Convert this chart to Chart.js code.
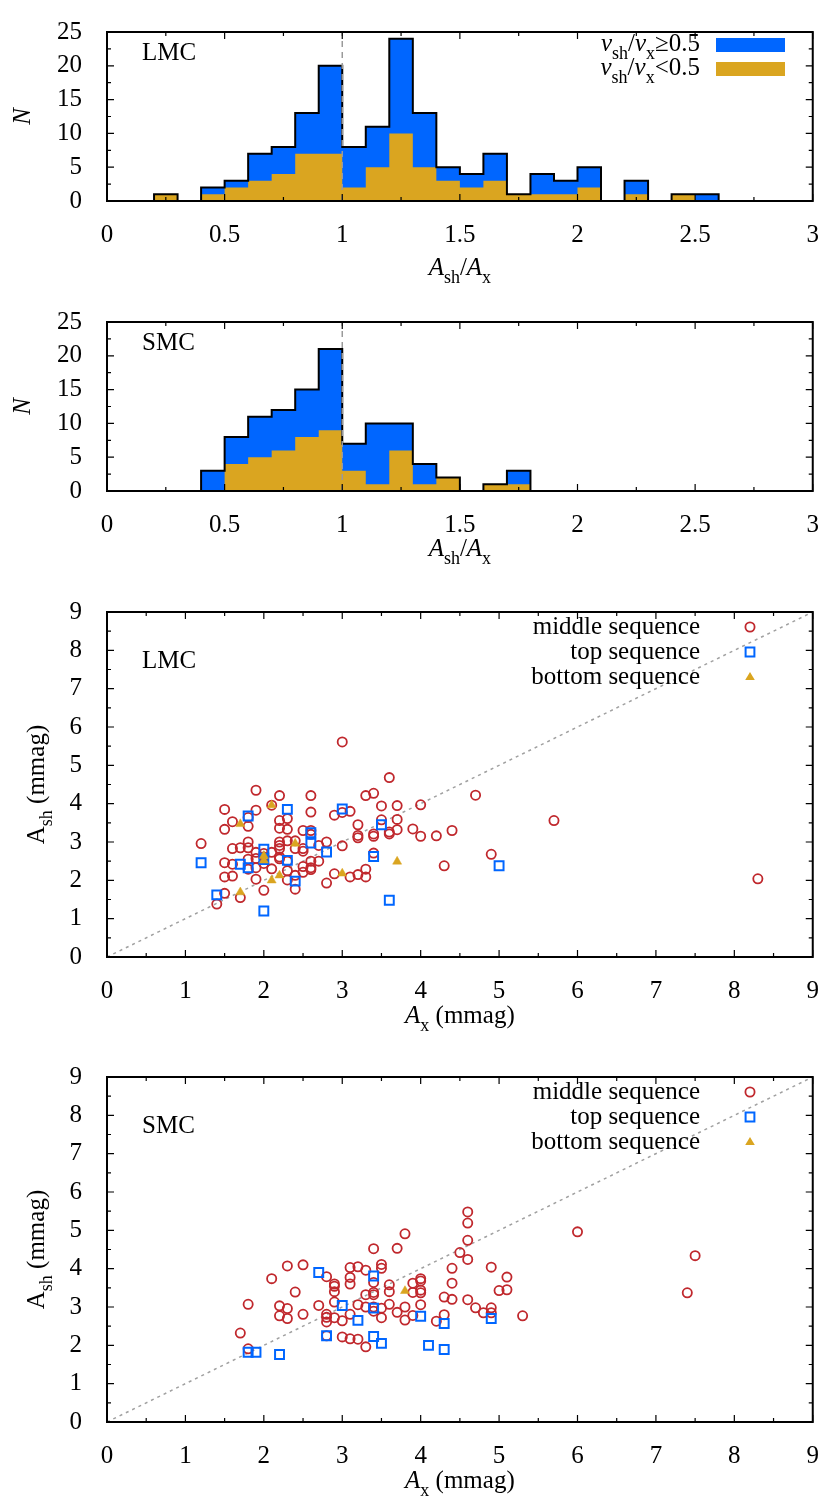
<!DOCTYPE html>
<html>
<head>
<meta charset="utf-8">
<script src="https://cdn.jsdelivr.net/npm/chart.js@4.4.1/dist/chart.umd.min.js"></script>
<style>
  body { margin: 0; background: #fff; }
  #wrap { position: relative; width: 830px; height: 1511px; }
  canvas { position: absolute; left: 0; }
</style>
</head>
<body>
<div id="wrap">
  <canvas id="histLMC" width="830" height="290" style="top:0px"></canvas>
  <canvas id="histSMC" width="830" height="290" style="top:290px"></canvas>
  <canvas id="scatLMC" width="830" height="465" style="top:580px"></canvas>
  <canvas id="scatSMC" width="830" height="465" style="top:1045px"></canvas>
</div>
<script>
// histogram bins (left edges, width 0.1)
const binEdges = [0, 0.1, 0.2, 0.3, 0.4, 0.5, 0.6, 0.7, 0.8, 0.9, 1.0, 1.1, 1.2, 1.3, 1.4,
                  1.5, 1.6, 1.7, 1.8, 1.9, 2.0, 2.1, 2.2, 2.3, 2.4, 2.5, 2.6, 2.7, 2.8, 2.9]
const binEnd = 3.0

// LMC counts: all stars (blue top) and v_sh/v_x < 0.5 (yellow)
const lmcAll = [0, 0, 1, 0, 2, 3, 7, 8, 13, 20, 8, 11, 24, 13, 5, 4, 7, 1, 4, 3, 5, 0, 3, 0, 1, 1, 0, 0, 0, 0]
const lmcLow = [0, 0, 1, 0, 1, 2, 3, 4, 7, 7, 2, 5, 10, 5, 3, 2, 3, 1, 1, 1, 2, 0, 1, 0, 1, 0, 0, 0, 0, 0]
// SMC counts
const smcAll = [0, 0, 0, 0, 3, 8, 11, 12, 15, 21, 7, 10, 10, 4, 2, 0, 1, 3, 0, 0, 0, 0, 0, 0, 0, 0, 0, 0, 0, 0]
const smcLow = [0, 0, 0, 0, 0, 4, 5, 6, 8, 9, 3, 1, 6, 1, 2, 0, 1, 1, 0, 0, 0, 0, 0, 0, 0, 0, 0, 0, 0, 0]

// LMC amplitudes (mmag)
const lmcMidX = [1.2, 1.5, 1.6, 1.5, 1.9, 1.9, 1.8, 1.8, 2.2, 2.1, 2.2, 2.3, 2.2, 2.3, 2.6, 2.6, 2.5, 2.6, 2.6,
  1.8, 1.8, 1.6, 1.7, 1.9, 2.0, 2.1, 2.2, 2.2, 2.2, 2.2, 2.3, 2.4, 2.5, 2.5, 2.7, 2.8, 3.0, 2.9, 3.0, 3.1,
  3.0, 3.2, 3.2, 3.2, 3.3, 3.4, 3.4, 3.4, 3.4, 3.5, 3.5, 3.6, 3.6, 3.6, 3.7, 3.7, 3.7, 3.9, 4.0, 4.0,
  4.2, 4.4, 4.7, 4.9, 4.3, 5.7, 8.3, 1.5, 1.6, 1.8, 1.8, 1.9, 1.9, 1.5, 1.6, 1.5, 1.4, 1.7, 2.0, 2.0,
  2.1, 2.2, 2.3, 2.3, 2.4, 2.4, 2.5, 2.5, 2.6, 2.6, 2.6, 2.7, 2.8, 2.9, 3.1, 3.2, 3.3, 3.3, 2.3, 2.4,
  2.0, 1.9]
const lmcMidY = [2.96, 3.85, 3.53, 3.33, 4.35, 3.83, 3.64, 3.41, 4.21, 3.96, 3.56, 3.61, 3.36, 3.33, 4.21, 3.78, 3.30, 3.30, 3.20,
  3.00, 2.85, 2.83, 2.85, 2.73, 2.70, 2.73, 3.00, 2.91, 2.83, 2.61, 3.03, 3.03, 2.83, 2.76, 2.91, 3.00, 2.90, 3.70, 3.77, 3.80,
  5.61, 3.45, 3.17, 3.11, 4.21, 4.27, 3.21, 3.15, 2.71, 3.94, 3.58, 4.68, 3.26, 3.21, 3.95, 3.59, 3.32, 3.34, 3.97, 3.15,
  3.16, 3.30, 4.22, 2.68, 2.38, 3.56, 2.04, 2.46, 2.42, 2.55, 2.29, 2.33, 2.03, 2.09, 2.11, 1.66, 1.38, 1.55, 1.74, 2.44,
  2.30, 2.56, 2.25, 2.01, 2.13, 1.77, 2.36, 2.21, 2.50, 2.33, 2.28, 2.50, 1.93, 2.17, 2.09, 2.15, 2.29, 2.09, 2.50, 2.83,
  2.61, 2.57]
const lmcTopX = [1.2, 1.4, 1.8, 1.7, 1.8, 2.0, 2.0, 2.0, 2.3, 2.3, 2.4, 2.6, 2.6, 2.8, 3.0, 3.4, 3.5, 3.6, 5.0]
const lmcTopY = [2.46, 1.62, 3.68, 2.42, 2.33, 2.81, 2.54, 1.20, 3.85, 2.52, 1.98, 3.24, 2.97, 2.74, 3.86, 2.62, 3.45, 1.48, 2.38]
const lmcBotX = [1.7, 2.1, 2.0, 2.0, 2.4, 2.2, 2.1, 1.7, 3.0, 3.7]
const lmcBotY = [3.47, 3.96, 2.64, 2.52, 2.96, 2.13, 2.00, 1.69, 2.18, 2.49]

// SMC amplitudes (mmag)
const smcMidX = [1.7, 1.8, 1.8, 2.1, 2.3, 2.5, 2.4, 2.2, 2.3, 2.2, 2.3, 2.5, 2.7, 2.8, 2.8, 2.8, 2.8, 2.8,
  2.9, 2.9, 2.9, 2.9, 2.9, 3.0, 3.0, 3.1, 3.1, 3.1, 3.1, 3.1, 3.2, 3.2, 3.2, 3.3, 3.3, 3.3, 3.3,
  3.4, 3.4, 3.4, 3.4, 3.4, 3.4, 3.5, 3.5, 3.5, 3.5, 3.6, 3.6, 3.6, 3.7, 3.7, 3.8, 3.8, 3.8,
  3.9, 3.9, 3.9, 4.0, 4.0, 4.0, 4.0, 4.0, 4.2, 4.3, 4.3, 4.4, 4.4, 4.4, 4.5, 4.6, 4.6, 4.6, 4.6, 4.6,
  4.7, 4.8, 4.9, 4.9, 4.9, 5.0, 5.1, 5.1, 5.3, 6.0, 7.5, 7.4]
const smcMidY = [2.32, 3.07, 1.91, 3.74, 4.07, 4.10, 3.39, 3.03, 2.96, 2.77, 2.70, 2.81, 3.04, 3.79, 2.81, 2.73, 2.61, 2.25,
  3.60, 3.54, 3.40, 3.13, 2.72, 2.64, 2.22, 4.03, 3.77, 3.60, 2.81, 2.17, 4.05, 3.06, 2.16, 3.96, 3.32, 3.00, 1.96,
  4.52, 3.64, 3.38, 3.32, 3.00, 2.89, 4.11, 4.01, 2.97, 2.72, 3.58, 3.40, 3.07, 4.53, 2.86, 4.91, 3.00, 2.66,
  3.62, 3.38, 2.78, 3.74, 3.68, 3.44, 3.37, 3.06, 2.63, 3.26, 2.80, 4.01, 3.62, 3.20, 4.42, 5.48, 5.19, 4.74, 4.24, 3.19,
  2.98, 2.85, 4.04, 2.98, 2.85, 3.43, 3.78, 3.45, 2.77, 4.96, 4.34, 3.37]
const smcTopX = [1.8, 1.9, 2.2, 2.7, 2.8, 3.0, 3.2, 3.4, 3.4, 3.4, 3.5, 4.0, 4.1, 4.3, 4.3, 4.9]
const smcTopY = [1.82, 1.82, 1.76, 3.90, 2.25, 3.04, 2.65, 3.81, 2.97, 2.23, 2.05, 2.76, 2.00, 2.57, 1.89, 2.70]
const smcBotX = [3.8]
const smcBotY = [3.42]

const SERIF = '"Liberation Serif", "DejaVu Serif", serif'
const BLUE = '#0066ff'
const GOLD = '#daa520'
const RED = '#c0282d'
const FS = 25

// draw text made of pieces: [text, style] with style containing 'i' (italic) and/or 's' (subscript)
function drawRich(ctx, parts, x, y, align, size) {
    let total = 0
    const pieces = parts.map(p => {
        const sub = p[1].includes('s')
        const font = (p[1].includes('i') ? 'italic ' : '') + Math.round(sub ? size * 0.7 : size) + 'px ' + SERIF
        ctx.font = font
        const w = ctx.measureText(p[0]).width
        total += w
        return { text: p[0], font, sub, w }
    })
    let cx = align === 'right' ? x - total : align === 'center' ? x - total / 2 : x
    ctx.textAlign = 'left'
    ctx.textBaseline = 'alphabetic'
    pieces.forEach(p => {
        ctx.font = p.font
        ctx.fillText(p.text, cx, y + (p.sub ? size * 0.3 : 0))
        cx += p.w
    })
}

function drawMarker(ctx, style, x, y) {
    ctx.save()
    ctx.beginPath()
    if (style === 'circle') {
        ctx.strokeStyle = RED; ctx.lineWidth = 1.8
        ctx.arc(x, y, 4.6, 0, Math.PI * 2); ctx.stroke()
    } else if (style === 'rect') {
        ctx.strokeStyle = BLUE; ctx.lineWidth = 2
        ctx.rect(x - 4.4, y - 4.4, 8.8, 8.8); ctx.stroke()
    } else {
        ctx.fillStyle = GOLD
        ctx.moveTo(x, y - 5); ctx.lineTo(x + 4.8, y + 3); ctx.lineTo(x - 4.8, y + 3); ctx.closePath(); ctx.fill()
    }
    ctx.restore()
}

// frame, inward ticks on all four sides, titles and hand placed legend
const decorPlugin = {
    id: 'decor',
    afterDraw(chart, args, opts) {
        const ctx = chart.ctx
        const a = chart.chartArea
        const xs = chart.scales.x, ys = chart.scales.y
        ctx.save()
        ctx.strokeStyle = '#000'
        ctx.lineWidth = 1.2
        ctx.beginPath()
        const nx = Math.round((xs.max - xs.min) / opts.xMinor)
        for (let i = 0; i <= nx; i++) {
            const px = xs.getPixelForValue(xs.min + i * opts.xMinor)
            const len = i % 2 === 0 ? 7 : 4
            ctx.moveTo(px, a.bottom); ctx.lineTo(px, a.bottom - len)
            ctx.moveTo(px, a.top); ctx.lineTo(px, a.top + len)
        }
        const ny = Math.round((ys.max - ys.min) / opts.yMinor)
        for (let i = 0; i <= ny; i++) {
            const py = ys.getPixelForValue(ys.min + i * opts.yMinor)
            const len = i % 2 === 0 ? 7 : 4
            ctx.moveTo(a.left, py); ctx.lineTo(a.left + len, py)
            ctx.moveTo(a.right, py); ctx.lineTo(a.right - len, py)
        }
        ctx.stroke()
        ctx.lineWidth = 2
        ctx.strokeRect(a.left, a.top, a.right - a.left, a.bottom - a.top)

        ctx.fillStyle = '#000'
        drawRich(ctx, [[opts.name, '']], 142, opts.nameY, 'left', FS)
        drawRich(ctx, opts.xTitle, (a.left + a.right) / 2, opts.xTitleY, 'center', FS)
        ctx.save()
        ctx.translate(opts.yTitleX, (a.top + a.bottom) / 2)
        ctx.rotate(-Math.PI / 2)
        drawRich(ctx, opts.yTitle, 0, 0, 'center', FS)
        ctx.restore()

        opts.legend.forEach(item => {
            ctx.fillStyle = '#000'
            drawRich(ctx, item.text, 700, item.y, 'right', FS)
            if (item.box) {
                ctx.fillStyle = item.box
                ctx.fillRect(716, item.y - 13, 69, 14)
            } else {
                drawMarker(ctx, item.marker, 750, item.y - 7)
            }
        })
        ctx.restore()
    }
}

function stepData(values) {
    const pts = values.map((v, i) => ({ x: binEdges[i], y: v }))
    pts.push({ x: binEnd, y: 0 })
    return pts
}

function axisFixing(width, height) {
    return {
        y: w => { w.width = width },
        x: h => { h.height = height }
    }
}

const tickLabel = value => String(Number(value.toFixed(2)))

function makeHist(id, all, low, name, xTitleY, legendItems) {
    const fit = axisFixing(107, 290 - 201)
    new Chart(document.getElementById(id), {
        type: 'line',
        data: {
            datasets: [
                { data: [{ x: 1, y: 0 }, { x: 1, y: 25 }], borderColor: '#9a9a9a', borderWidth: 1.5,
                  borderDash: [6, 5], pointRadius: 0, fill: false, order: 0 },
                { data: stepData(all), stepped: 'before', borderColor: '#000', borderWidth: 2,
                  pointRadius: 0, fill: false, order: 1 },
                { data: stepData(low), stepped: 'before', borderColor: 'rgba(0,0,0,0)', borderWidth: 0,
                  backgroundColor: GOLD, pointRadius: 0, fill: 'origin', order: 2 },
                { data: stepData(all), stepped: 'before', borderColor: 'rgba(0,0,0,0)', borderWidth: 0,
                  backgroundColor: BLUE, pointRadius: 0, fill: 'origin', order: 3 }
            ]
        },
        options: {
            responsive: false,
            animation: false,
            layout: { padding: { top: 25, right: 15, left: 0, bottom: 0 } },
            scales: {
                x: {
                    type: 'linear', min: 0, max: 3,
                    grid: { display: false }, border: { display: false },
                    ticks: { stepSize: 0.5, padding: 11, color: '#000', font: { family: SERIF, size: FS },
                             callback: tickLabel },
                    afterFit: fit.x
                },
                y: {
                    min: 0, max: 25,
                    grid: { display: false }, border: { display: false },
                    ticks: { stepSize: 5, padding: 17, color: '#000', font: { family: SERIF, size: FS } },
                    afterFit: fit.y
                }
            },
            plugins: {
                legend: { display: false },
                tooltip: { enabled: false },
                decor: {
                    xMinor: 0.25, yMinor: 2.5, name, nameY: 60,
                    xTitle: [['A', 'i'], ['sh', 's'], ['/', ''], ['A', 'i'], ['x', 's']], xTitleY: xTitleY,
                    yTitle: [['N', 'i']], yTitleX: 30,
                    legend: legendItems
                }
            }
        },
        plugins: [decorPlugin]
    })
}

function pairs(xs, ys) {
    return xs.map((x, i) => ({ x, y: ys[i] }))
}

function makeScatter(id, midX, midY, topX, topY, botX, botY, name) {
    const fit = axisFixing(107, 465 - 377)
    new Chart(document.getElementById(id), {
        type: 'scatter',
        data: {
            datasets: [
                { data: pairs(botX, botY), pointStyle: 'triangle', pointRadius: 5.2, backgroundColor: GOLD,
                  borderColor: GOLD, borderWidth: 0.5, order: 1 },
                { data: pairs(topX, topY), pointStyle: 'rect', pointRadius: 6.3, backgroundColor: 'rgba(0,0,0,0)',
                  borderColor: BLUE, borderWidth: 2, order: 2 },
                { data: pairs(midX, midY), pointStyle: 'circle', pointRadius: 4.6, backgroundColor: 'rgba(0,0,0,0)',
                  borderColor: RED, borderWidth: 1.8, order: 3 },
                { data: [{ x: 0, y: 0 }, { x: 9, y: 9 }], showLine: true, borderColor: '#a0a0a0', borderWidth: 1.5,
                  borderDash: [3, 4], pointRadius: 0, order: 4 }
            ]
        },
        options: {
            responsive: false,
            animation: false,
            layout: { padding: { top: 26, right: 15, left: 0, bottom: 0 } },
            scales: {
                x: {
                    type: 'linear', min: 0, max: 9,
                    grid: { display: false }, border: { display: false },
                    ticks: { stepSize: 1, padding: 11, color: '#000', font: { family: SERIF, size: FS } },
                    afterFit: fit.x
                },
                y: {
                    min: 0, max: 9,
                    grid: { display: false }, border: { display: false },
                    ticks: { stepSize: 1, padding: 17, color: '#000', font: { family: SERIF, size: FS } },
                    afterFit: fit.y
                }
            },
            plugins: {
                legend: { display: false },
                tooltip: { enabled: false },
                decor: {
                    xMinor: 0.5, yMinor: 0.5, name, nameY: 88,
                    xTitle: [['A', 'i'], ['x', 's'], [' (mmag)', '']], xTitleY: 443,
                    yTitle: [['A', ''], ['sh', 's'], [' (mmag)', '']], yTitleX: 44,
                    legend: [
                        { text: [['middle sequence', '']], y: 54, marker: 'circle' },
                        { text: [['top sequence', '']], y: 79, marker: 'rect' },
                        { text: [['bottom sequence', '']], y: 104, marker: 'triangle' }
                    ]
                }
            }
        },
        plugins: [decorPlugin]
    })
}

const histLegend = [
    { text: [['ν', 'i'], ['sh', 's'], ['/', ''], ['ν', 'i'], ['x', 's'], ['≥0.5', '']], y: 51, box: BLUE },
    { text: [['ν', 'i'], ['sh', 's'], ['/', ''], ['ν', 'i'], ['x', 's'], ['<0.5', '']], y: 75, box: GOLD }
]

makeHist('histLMC', lmcAll, lmcLow, 'LMC', 275, histLegend)
makeHist('histSMC', smcAll, smcLow, 'SMC', 266, [])
makeScatter('scatLMC', lmcMidX, lmcMidY, lmcTopX, lmcTopY, lmcBotX, lmcBotY, 'LMC')
makeScatter('scatSMC', smcMidX, smcMidY, smcTopX, smcTopY, smcBotX, smcBotY, 'SMC')
</script>
</body>
</html>
